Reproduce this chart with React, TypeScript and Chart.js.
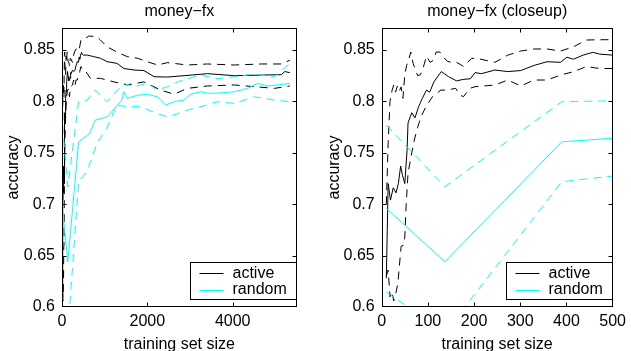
import React, { useEffect, useRef } from "react";
import { Chart, registerables } from "chart.js";

Chart.register(...registerables);

const FONT = "'Liberation Sans', Arial, Helvetica, sans-serif";

const titles = ["money−fx", "money−fx (closeup)"];
const seriesNames = ["active", "random"];
const seriesColors = ["#000000", "#00ffff"];
const xAxisLabel = "training set size";
const yAxisLabel = "accuracy";
const yTicks = [0.6, 0.65, 0.7, 0.75, 0.8, 0.85];
const xTicksFull = [0, 2000, 4000];
const xTicksCloseup = [0, 100, 200, 300, 400, 500];

const activeMeanX = [10, 14, 19, 25, 31, 36, 41, 45, 50, 55, 57, 65, 72, 80, 88, 97, 104, 113, 129, 145, 162, 178, 192, 202, 216, 245, 273, 301, 330, 358, 387, 401, 415, 436, 457, 472, 500, 590, 745, 900, 1060, 1290, 1450, 1690, 1920, 2160, 2470, 2860, 3410, 4040, 4670, 5140, 5220, 5340];
const activeMean = [0.628, 0.72, 0.704, 0.716, 0.711, 0.72, 0.737, 0.728, 0.72, 0.753, 0.779, 0.789, 0.784, 0.795, 0.803, 0.811, 0.809, 0.819, 0.829, 0.824, 0.82, 0.8215, 0.822, 0.828, 0.827, 0.8305, 0.829, 0.83, 0.835, 0.8386, 0.838, 0.843, 0.841, 0.845, 0.8477, 0.846, 0.845, 0.8451, 0.8435, 0.842, 0.8386, 0.837, 0.832, 0.8305, 0.83, 0.824, 0.8237, 0.825, 0.827, 0.825, 0.8256, 0.826, 0.829, 0.828];

const activeUpperX = [10, 14, 18, 22, 26, 30, 34, 38, 42, 46, 50, 54, 58, 63, 68, 72, 78, 84, 90, 97, 105, 112, 118, 126, 134, 142, 150, 162, 170, 177, 186, 195, 215, 245, 273, 301, 330, 358, 387, 415, 443, 472, 500, 630, 820, 900, 1060, 1290, 1530, 1770, 2000, 2240, 2470, 2940, 3410, 4040, 4670, 5140, 5340];
const activeUpper = [0.7, 0.76, 0.8, 0.81, 0.816, 0.809, 0.815, 0.81, 0.814, 0.803, 0.826, 0.835, 0.84, 0.848, 0.837, 0.832, 0.825, 0.826, 0.833, 0.844, 0.838, 0.84, 0.848, 0.848, 0.843, 0.839, 0.838, 0.838, 0.836, 0.834, 0.838, 0.842, 0.841, 0.838, 0.845, 0.849, 0.851, 0.851, 0.849, 0.853, 0.8597, 0.86, 0.86, 0.8636, 0.863, 0.8597, 0.853, 0.848, 0.8435, 0.842, 0.8386, 0.8354, 0.8377, 0.8354, 0.8364, 0.8354, 0.8364, 0.8364, 0.84];

const activeLowerX = [10, 14, 18, 22, 26, 30, 35, 42, 47, 50, 53, 57, 65, 72, 78, 85, 96, 110, 128, 142, 160, 170, 177, 191, 202, 245, 273, 301, 330, 358, 387, 415, 443, 472, 510, 667, 902, 1216, 1529, 1922, 2313, 2627, 2941, 3412, 4039, 4510, 4980, 5340];
const activeLower = [0.63, 0.636, 0.61, 0.615, 0.606, 0.612, 0.623, 0.659, 0.66, 0.668, 0.7, 0.73, 0.75, 0.765, 0.775, 0.785, 0.795, 0.8046, 0.811, 0.811, 0.8127, 0.806, 0.8046, 0.8127, 0.8143, 0.8159, 0.8208, 0.815, 0.8208, 0.8208, 0.8256, 0.8289, 0.8338, 0.832, 0.832, 0.8224, 0.8224, 0.819, 0.816, 0.819, 0.811, 0.807, 0.8127, 0.815, 0.816, 0.8143, 0.8127, 0.815];

const randomMeanX = [10, 137, 390, 650, 780, 1060, 1400, 1450, 1530, 1770, 2000, 2240, 2430, 2630, 2860, 3020, 3250, 3410, 3650, 4040, 4350, 4590, 4820, 5060, 5340];
const randomMean = [0.696, 0.644, 0.7607, 0.7688, 0.7818, 0.785, 0.801, 0.8094, 0.803, 0.806, 0.8068, 0.8045, 0.7964, 0.7997, 0.8013, 0.807, 0.8094, 0.808, 0.808, 0.8094, 0.8127, 0.8175, 0.815, 0.816, 0.8175];

const randomUpperX = [10, 137, 390, 590, 780, 1060, 1450, 1690, 2000, 2240, 2470, 2710, 2940, 3250, 3650, 4040, 4510, 4980, 5340];
const randomUpper = [0.777, 0.717, 0.7997, 0.8013, 0.811, 0.7997, 0.8175, 0.8143, 0.8175, 0.811, 0.8143, 0.819, 0.822, 0.8257, 0.822, 0.824, 0.8266, 0.824, 0.837];

const randomLowerX = [10, 137, 390, 590, 820, 1060, 1290, 1530, 1840, 2240, 2470, 2710, 2940, 3250, 3650, 4040, 4510, 4980, 5340];
const randomLower = [0.6146, 0.575, 0.7218, 0.732, 0.759, 0.775, 0.7964, 0.7948, 0.7948, 0.788, 0.785, 0.788, 0.7916, 0.7948, 0.7997, 0.798, 0.8045, 0.8013, 0.7997];

const pts = (xs: number[], ys: number[]) => xs.map((x, i) => ({ x, y: ys[i] }));

const DASH = [8, 6];

function buildDatasets() {
  const line = (label: string, xs: number[], ys: number[], color: string, dashed: boolean) => ({
    label,
    data: pts(xs, ys),
    borderColor: color,
    backgroundColor: color,
    borderWidth: 1,
    borderDash: dashed ? DASH : [],
    pointRadius: 0,
    tension: 0,
    fill: false,
  });
  return [
    line(seriesNames[1], randomUpperX, randomUpper, seriesColors[1], true),
    line(seriesNames[1], randomLowerX, randomLower, seriesColors[1], true),
    line(seriesNames[1], randomMeanX, randomMean, seriesColors[1], false),
    line(seriesNames[0], activeUpperX, activeUpper, seriesColors[0], true),
    line(seriesNames[0], activeLowerX, activeLower, seriesColors[0], true),
    line(seriesNames[0], activeMeanX, activeMean, seriesColors[0], false),
  ];
}

const matlabPlugin = {
  id: "matlabFrame",
  afterDraw(chart: any) {
    const { ctx, chartArea, scales } = chart;
    const { left, right, top, bottom } = chartArea;
    const L = Math.round(left) + 0.5;
    const R = Math.round(right) - 0.5;
    const T = Math.round(top) + 0.5;
    const B = Math.round(bottom) - 0.5;
    ctx.save();
    ctx.strokeStyle = "#000";
    ctx.lineWidth = 1;
    ctx.setLineDash([]);
    ctx.strokeRect(L, T, R - L, B - T);
    const tl = 4;
    ctx.beginPath();
    for (const t of scales.x.ticks) {
      const px = Math.round(scales.x.getPixelForValue(t.value)) + 0.5;
      if (px <= L + 1 || px >= R - 1) continue;
      ctx.moveTo(px, B);
      ctx.lineTo(px, B - tl);
      ctx.moveTo(px, T);
      ctx.lineTo(px, T + tl);
    }
    for (const t of scales.y.ticks) {
      const py = Math.round(scales.y.getPixelForValue(t.value)) + 0.5;
      if (py <= T + 1 || py >= B - 1) continue;
      ctx.moveTo(L, py);
      ctx.lineTo(L + tl, py);
      ctx.moveTo(R, py);
      ctx.lineTo(R - tl, py);
    }
    ctx.stroke();

    // legend box (bottom right, inside axes)
    const bw = 106;
    const bx0 = Math.round(right) - 1 - bw + 0.5;
    const by0 = Math.round(bottom) - 45 + 0.5;
    const bh = 37;
    ctx.fillStyle = "#fff";
    ctx.fillRect(bx0, by0, bw, bh);
    ctx.strokeRect(bx0, by0, bw, bh);
    ctx.font = "16px " + FONT;
    ctx.textBaseline = "middle";
    ctx.textAlign = "left";
    seriesNames.forEach((name, i) => {
      const y = by0 + 10.5 + i * 16.5;
      ctx.strokeStyle = seriesColors[i];
      ctx.beginPath();
      ctx.moveTo(bx0 + 9, Math.round(y) + 0.5);
      ctx.lineTo(bx0 + 33, Math.round(y) + 0.5);
      ctx.stroke();
      ctx.fillStyle = "#000";
      ctx.fillText(name, bx0 + 42, y + 0.5);
    });
    ctx.restore();
  },
};

function makeConfig(opts: {
  title: string;
  xMax: number;
  xTicks: number[];
  yAxisWidth: number;
  padRight: number;
  yTitlePad: number;
}): any {
  return {
    type: "line",
    data: { datasets: buildDatasets() },
    plugins: [matlabPlugin],
    options: {
      responsive: false,
      animation: false,
      devicePixelRatio: 1,
      layout: { padding: { left: 0, right: opts.padRight, top: 0, bottom: 0 } },
      plugins: {
        legend: { display: false },
        tooltip: { enabled: false },
        title: {
          display: true,
          fullSize: false,
          text: opts.title,
          color: "#000",
          font: { family: FONT, size: 16, weight: "normal" },
          padding: { top: 1.6, bottom: 7.2 },
        },
      },
      scales: {
        x: {
          type: "linear",
          min: 0,
          max: opts.xMax,
          afterBuildTicks: (scale: any) => {
            scale.ticks = opts.xTicks.map((v) => ({ value: v }));
          },
          afterFit: (scale: any) => {
            scale.height = 44;
          },
          grid: { display: false, drawTicks: false },
          border: { display: false },
          ticks: {
            color: "#000",
            font: { family: FONT, size: 16 },
            padding: 5,
            maxRotation: 0,
            autoSkip: false,
            callback: (v: any) => String(v),
          },
          title: {
            display: true,
            text: xAxisLabel,
            color: "#000",
            font: { family: FONT, size: 16, lineHeight: 0.8 },
            padding: { top: 0, bottom: 0.5 },
          },
        },
        y: {
          type: "linear",
          min: 0.6,
          max: 0.8714,
          afterBuildTicks: (scale: any) => {
            scale.ticks = yTicks.map((v) => ({ value: v }));
          },
          afterFit: (scale: any) => {
            scale.width = opts.yAxisWidth;
          },
          grid: { display: false, drawTicks: false },
          border: { display: false },
          ticks: {
            color: "#000",
            font: { family: FONT, size: 16 },
            padding: 7,
            autoSkip: false,
            callback: (v: any) => String(+Number(v).toFixed(2)),
          },
          title: {
            display: true,
            text: yAxisLabel,
            color: "#000",
            font: { family: FONT, size: 16 },
            padding: { top: opts.yTitlePad, bottom: 0 },
          },
        },
      },
    },
  };
}

function Panel(props: { left: number; width: number; config: () => any }) {
  const ref = useRef<HTMLCanvasElement | null>(null);
  useEffect(() => {
    if (!ref.current) return;
    const chart = new Chart(ref.current, props.config());
    return () => chart.destroy();
  }, []);
  return (
    <div style={{ position: "absolute", left: props.left, top: 0, width: props.width, height: 351 }}>
      <canvas ref={ref} width={props.width} height={351} style={{ display: "block" }} />
    </div>
  );
}

export default function App() {
  return (
    <div style={{ position: "fixed", left: 0, top: 0, width: 631, height: 351, background: "#fff", overflow: "hidden" }}>
      <Panel
        left={0}
        width={315}
        config={() =>
          makeConfig({ title: titles[0], xMax: 5500, xTicks: xTicksFull, yAxisWidth: 62, padRight: 18.3, yTitlePad: 3.9 })
        }
      />
      <Panel
        left={315}
        width={316}
        config={() =>
          makeConfig({ title: titles[1], xMax: 500, xTicks: xTicksCloseup, yAxisWidth: 66.7, padRight: 14.3, yTitlePad: 9.9 })
        }
      />
    </div>
  );
}
